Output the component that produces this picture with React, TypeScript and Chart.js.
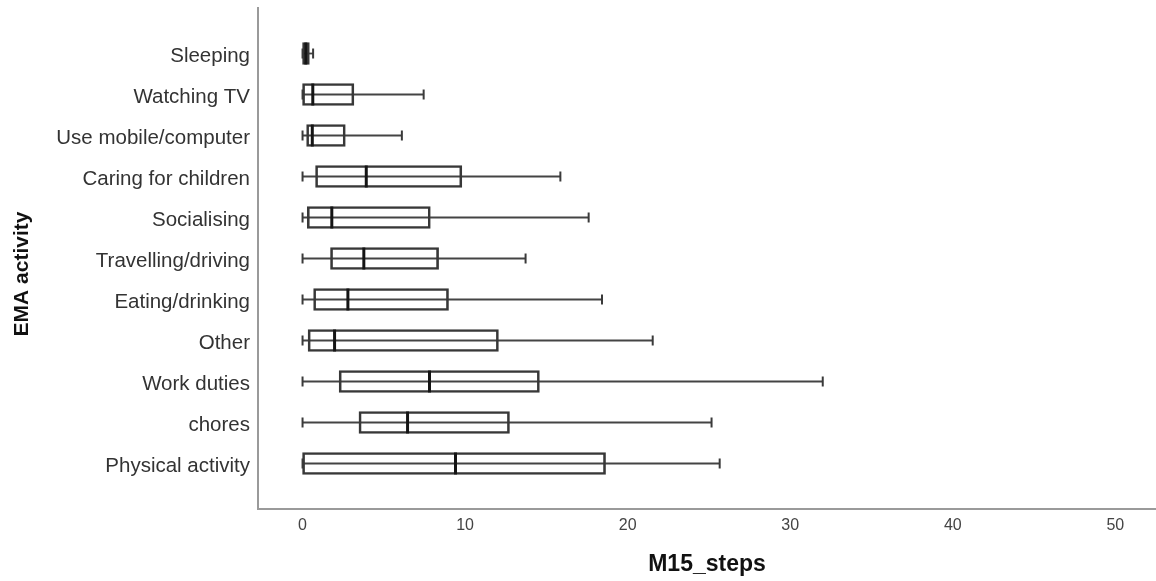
import React, { useEffect, useRef } from 'react';
import { Chart, registerables } from 'chart.js';

Chart.register(...registerables);

// Activity categories, top to bottom
const activities = [
  'Sleeping',
  'Watching TV',
  'Use mobile/computer',
  'Caring for children',
  'Socialising',
  'Travelling/driving',
  'Eating/drinking',
  'Other',
  'Work duties',
  'chores',
  'Physical activity',
];

// Five-number summaries of steps per 15 minutes
const whiskerLow = [0, 0, 0, 0, 0, 0, 0, 0, 0, 0, 0];
const quartile1 = [0, 0, 0.25, 0.8, 0.29, 1.72, 0.68, 0.34, 2.25, 3.47, 0];
const medians = [0.2, 0.63, 0.6, 3.92, 1.8, 3.77, 2.79, 1.97, 7.81, 6.46, 9.41];
const quartile3 = [0.42, 3.16, 2.63, 9.8, 7.86, 8.37, 8.98, 12.05, 14.57, 12.73, 18.64];
const whiskerHigh = [0.65, 7.45, 6.11, 15.86, 17.6, 13.72, 18.42, 21.54, 32.0, 25.16, 25.66];

const stepTicks = [0, 10, 20, 30, 40, 50];

const xAxisTitle = 'M15_steps';
const yAxisTitle = 'EMA activity';

const BOX_HEIGHT = 22;
const CAP_HALF = 5;

// Whisker lines, caps, medians and the rotated category-axis title
const boxWhiskers = {
  id: 'boxWhiskers',
  beforeDatasetsDraw(chart: any) {
    const { ctx, scales } = chart;
    const x = scales.x;
    const y = scales.y;
    ctx.save();
    ctx.strokeStyle = '#444';
    ctx.lineWidth = 1.8;
    activities.forEach((_, i) => {
      const py = y.getPixelForValue(i);
      ctx.beginPath();
      ctx.moveTo(x.getPixelForValue(whiskerLow[i]), py);
      ctx.lineTo(x.getPixelForValue(whiskerHigh[i]), py);
      ctx.stroke();
    });
    ctx.restore();
  },
  afterDatasetsDraw(chart: any) {
    const { ctx, scales } = chart;
    const x = scales.x;
    const y = scales.y;
    ctx.save();
    activities.forEach((_, i) => {
      const py = y.getPixelForValue(i);
      // caps
      ctx.strokeStyle = '#3a3a3a';
      ctx.lineWidth = 2;
      [whiskerLow[i], whiskerHigh[i]].forEach((v) => {
        const px = x.getPixelForValue(v);
        ctx.beginPath();
        ctx.moveTo(px, py - CAP_HALF);
        ctx.lineTo(px, py + CAP_HALF);
        ctx.stroke();
      });
      // median
      const pm = x.getPixelForValue(medians[i]);
      ctx.strokeStyle = '#151515';
      ctx.lineWidth = 3;
      ctx.beginPath();
      ctx.moveTo(pm, py - BOX_HEIGHT / 2);
      ctx.lineTo(pm, py + BOX_HEIGHT / 2);
      ctx.stroke();
    });
    ctx.restore();
  },
  afterDraw(chart: any) {
    const { ctx } = chart;
    ctx.save();
    ctx.translate(22, 274);
    ctx.rotate(-Math.PI / 2);
    ctx.font = 'bold 21px "Liberation Sans", Arial, sans-serif';
    ctx.fillStyle = '#111';
    ctx.textAlign = 'center';
    ctx.textBaseline = 'middle';
    ctx.fillText(yAxisTitle, 0, 0);
    ctx.restore();
  },
};

export default function App() {
  const canvasRef = useRef<HTMLCanvasElement | null>(null);

  useEffect(() => {
    document.body.style.margin = '0';
    const canvas = canvasRef.current;
    if (!canvas) return;

    const chart = new Chart(canvas, {
      type: 'bar',
      data: {
        datasets: [
          {
            data: activities.map((_, i) => ({ y: i, x: [quartile1[i], quartile3[i]] })) as any,
            backgroundColor: 'rgba(255,255,255,0)',
            borderColor: '#383838',
            borderWidth: 2,
            borderSkipped: false,
            barThickness: BOX_HEIGHT,
          },
        ],
      },
      options: {
        indexAxis: 'y',
        animation: false,
        responsive: false,
        devicePixelRatio: 1,
        layout: { padding: { top: 8, left: 0, right: 0, bottom: 0 } },
        plugins: {
          legend: { display: false },
          tooltip: { enabled: false },
        },
        scales: {
          x: {
            type: 'linear',
            min: -2.74,
            max: 52.5,
            grid: { display: false, drawTicks: false },
            border: { display: true, color: '#9a9a9a', width: 2 },
            afterBuildTicks: (scale: any) => {
              scale.ticks = stepTicks.map((v) => ({ value: v }));
            },
            afterFit: (scale: any) => {
              scale.height = 72;
              scale.paddingLeft = 0;
              scale.paddingRight = 0;
            },
            ticks: {
              padding: 7,
              color: '#444',
              font: { family: '"Liberation Sans", Arial, sans-serif', size: 16 },
              callback: (v: any) => String(v),
            },
            title: {
              display: true,
              text: xAxisTitle,
              color: '#111',
              font: { family: '"Liberation Sans", Arial, sans-serif', size: 23, weight: 'bold' },
              padding: { top: 0, bottom: 3 },
            },
          },
          y: {
            type: 'linear',
            reverse: true,
            offset: false,
            min: -1.11,
            max: 11.11,
            grid: { display: false, drawTicks: false },
            border: { display: true, color: '#9a9a9a', width: 2 },
            afterBuildTicks: (scale: any) => {
              scale.ticks = activities.map((_, i) => ({ value: i }));
            },
            afterFit: (scale: any) => {
              scale.width = 258;
              scale.paddingTop = 0;
              scale.paddingBottom = 0;
            },
            ticks: {
              padding: 8,
              labelOffset: 3,
              color: '#333',
              font: { family: '"Liberation Sans", Arial, sans-serif', size: 20.5 },
              callback: (v: any) => activities[v as number] ?? '',
            },
          },
        },
      },
      plugins: [boxWhiskers],
    });

    return () => chart.destroy();
  }, []);

  return (
    <div style={{ width: 1156, height: 581, background: '#fff' }}>
      <canvas ref={canvasRef} width={1156} height={581} />
    </div>
  );
}
